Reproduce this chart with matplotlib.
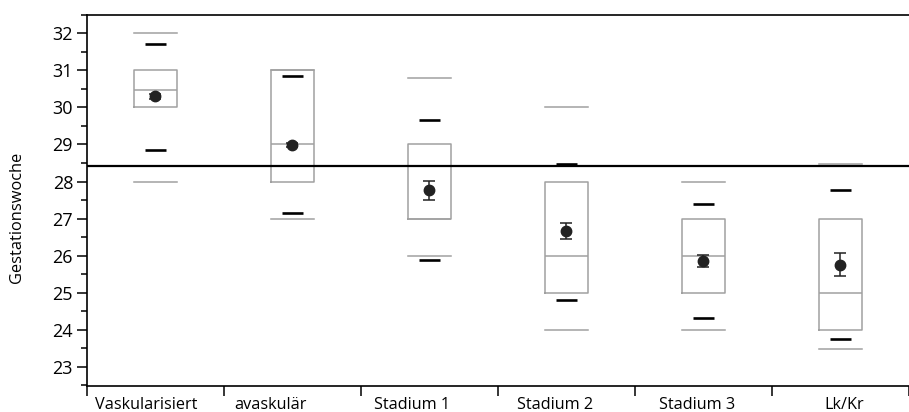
import matplotlib
matplotlib.use("Agg")
import matplotlib.pyplot as plt
import matplotlib.transforms as mtransforms

plt.rcParams['font.family'] = ['Open Sans', 'DejaVu Sans']

# data
categories = ['Vaskularisiert', 'avaskulär', 'Stadium 1', 'Stadium 2', 'Stadium 3', 'Lk/Kr']
mins = [28.0, 27.0, 26.0, 24.0, 24.0, 23.47]
maxs = [32.0, 31.0, 30.8, 30.0, 28.0, 28.47]
q1s = [30.0, 28.0, 27.0, 25.0, 25.0, 24.0]
q3s = [31.0, 31.0, 29.0, 28.0, 27.0, 27.0]
medians = [30.48, 29.0, 27.0, 26.0, 26.0, 25.0]
p_low = [28.86, 27.14, 25.87, 24.8, 24.33, 23.75]
p_high = [31.72, 30.84, 29.65, 28.47, 27.39, 27.76]
means = [30.3, 28.98, 27.76, 26.66, 25.86, 25.76]
sems = [0.07, 0.05, 0.26, 0.21, 0.16, 0.31]
ref_line = 28.43

GRAY = '#a0a0a0'
DARK = '#222222'

fig = plt.figure(figsize=(9.09, 4.12), dpi=100)
ax = fig.add_axes([0.0957, 0.063, 0.9043, 0.901])

centers = [i + 0.5 for i in range(len(categories))]

stats = []
for i, c in enumerate(categories):
    stats.append({'label': c, 'med': medians[i], 'q1': q1s[i], 'q3': q3s[i],
                  'whislo': mins[i], 'whishi': maxs[i], 'fliers': []})

ax.bxp(stats, positions=centers, widths=0.32, capwidths=0.32,
       showfliers=False, patch_artist=False, manage_ticks=False,
       boxprops={'color': GRAY, 'linewidth': 1.1},
       medianprops={'color': GRAY, 'linewidth': 1.1},
       whiskerprops={'visible': False},
       capprops={'color': GRAY, 'linewidth': 1.1})

# black percentile markers
ax.hlines(p_low, [c - 0.075 for c in centers], [c + 0.075 for c in centers],
          color='black', linewidth=1.9, zorder=3)
ax.hlines(p_high, [c - 0.075 for c in centers], [c + 0.075 for c in centers],
          color='black', linewidth=1.9, zorder=3)

# mean +- SE
ax.errorbar(centers, means, yerr=sems, fmt='o', color=DARK, ecolor=DARK,
            markersize=7.5, capsize=4.5, elinewidth=1.1, capthick=1.1, zorder=4)

ax.axhline(ref_line, color='black', linewidth=1.6, zorder=2)

ax.set_xlim(0, 6)
ax.set_ylim(22.48, 32.48)

ax.spines['right'].set_visible(False)
for s in ['left', 'top', 'bottom']:
    ax.spines[s].set_linewidth(1.2)

ax.set_yticks(range(23, 33))
ax.set_yticks([v + 0.5 for v in range(22, 33)], minor=True)
ax.tick_params(axis='y', which='major', length=7, width=1.1, labelsize=13, pad=3)
ax.tick_params(axis='y', which='minor', length=4, width=1.1)

ax.set_xticks(range(0, 7))
ax.set_xticklabels([])
ax.tick_params(axis='x', which='major', length=7, width=1.1)

# category labels (slightly off-centre like the original)
label_shift = [-0.07, -0.16, -0.13, -0.08, -0.05, 0.03]
trans = mtransforms.blended_transform_factory(ax.transData, ax.transAxes)
for i, c in enumerate(categories):
    ax.text(centers[i] + label_shift[i], -0.03, c, transform=trans,
            ha='center', va='top', fontsize=11.7)

ax.set_ylabel('Gestationswoche', fontsize=11.8)
ax.yaxis.set_label_coords(-0.075, 0.455)

fig.savefig('out.png', dpi=100)
